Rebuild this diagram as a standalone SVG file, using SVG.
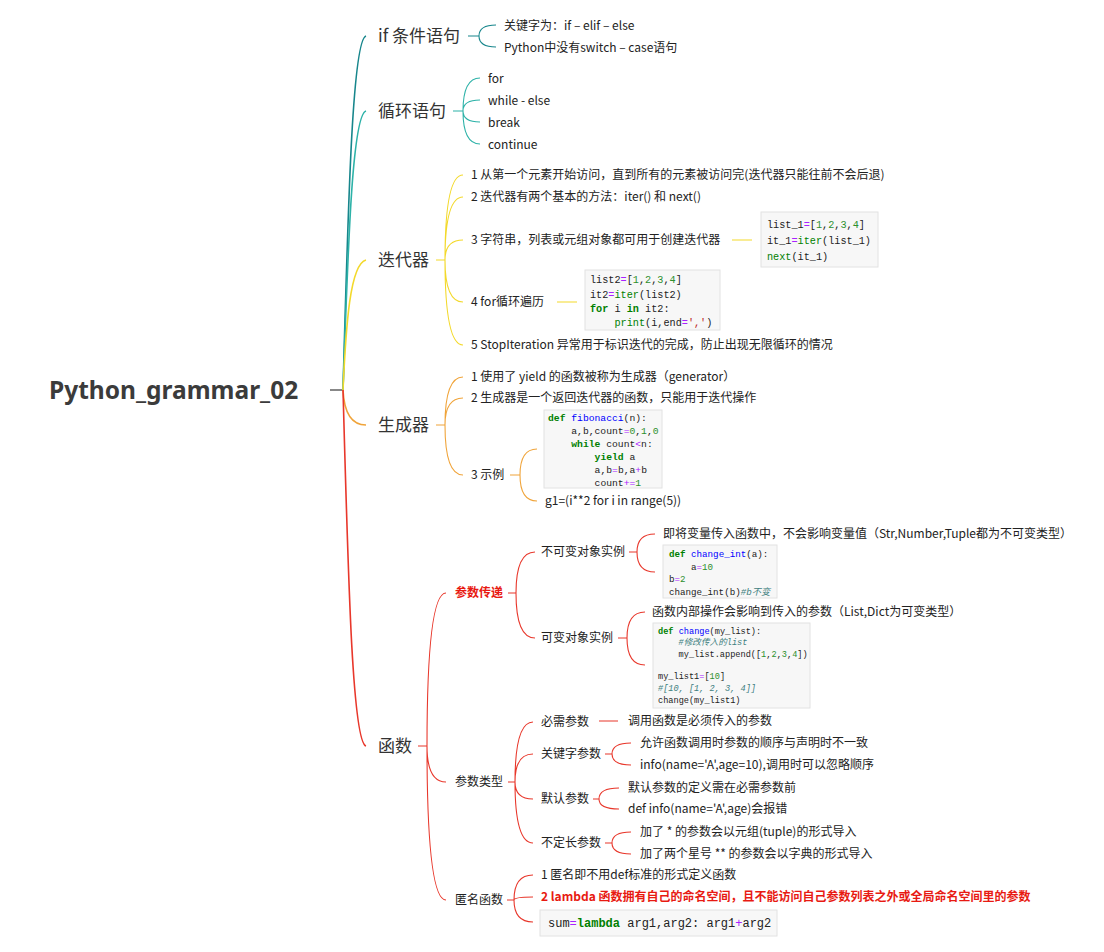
<svg xmlns="http://www.w3.org/2000/svg" width="1104" height="952" viewBox="0 0 1104 952">
<style>
text{font-family:"Noto Sans CJK SC","Noto Sans",sans-serif;fill:#222}
.root{font-family:"Noto Sans","Noto Sans CJK SC",sans-serif;font-size:24.5px;font-weight:bold;fill:#3b3b3b}
.main{font-size:17px;fill:#333}
.sub{font-size:12px;fill:#222}
.red{fill:#e81a12;font-weight:bold}
.code{font-family:"Liberation Mono","Noto Sans CJK SC",monospace;fill:#222;white-space:pre}
.box{fill:#f7f7f7;stroke:#e2e2e2;stroke-width:1}
.k{fill:#008000;font-weight:bold}
.nf{fill:#0000ff}
.o{fill:#aa22ff}
.m{fill:#2d8f2d}
.nb{fill:#008000}
.c{fill:#408080;font-style:italic}
.s{fill:#ba2121}
.t{fill:none;stroke-width:1.6}
.b{fill:none;stroke-width:1.1}
.teal1{stroke:#17868c}
.teal2{stroke:#2db2a8}
.yel{stroke:#f3d92b}
.ora{stroke:#f0a43a}
.rd{stroke:#e8372b}
</style>
<g id="connectors">
<path d="M330,390 H343" fill="none" stroke="#555" stroke-width="1.4"/>
<path class="t teal1" d="M343,390 C348,213 352,40 366,36"/>
<path class="t teal2" d="M343,390 C348,250 352,115 366,111"/>
<path class="t yel" d="M343,390 C346,325 350,264 366,260"/>
<path class="t ora" d="M343,390 C344,410 350,425 366,425"/>
<path class="t rd" d="M343,390 C348,568 352,742 366,746"/>
<path class="b teal1" d="M468,36 H479 M479,36 Q479,25 496,25 M479,36 Q479,47 496,47"/>
<path class="b teal2" d="M453,111 H463 M463,111 Q463,78 480,78 M463,111 Q463,100 480,100 M463,111 Q463,122 480,122 M463,111 Q463,144 480,144"/>
<path class="b yel" d="M436,260 H445 M445,260 Q445,175 463,175 M445,260 Q445,197 463,197 M445,260 Q445,240 463,240 M445,260 Q445,302 463,302 M445,260 Q445,345 463,345 M732,240 H752 M557,302 H577"/>
<path class="b ora" d="M436,425 H445 M445,425 Q445,377 463,377 M445,425 Q445,398 463,398 M445,425 Q445,475 463,475 M510,475 H520 M520,475 Q520,449 537,449 M520,475 Q520,501 537,501"/>
<path class="b rd" d="M418,746 H427 M427,746 Q427,593 446,593 M427,746 Q427,782 446,782 M427,746 Q427,900 446,900"/>
<path class="b rd" d="M508,593 H516 M516,593 Q516,552 535,552 M516,593 Q516,638 535,638"/>
<path class="b rd" d="M629,552 H637 M637,552 Q637,534 655,534 M637,552 Q637,572 655,572"/>
<path class="b rd" d="M618,638 H627 M627,638 Q627,612 645,612 M627,638 Q627,665 645,665"/>
<path class="b rd" d="M508,782 H515 M515,782 Q515,722 533,722 M515,782 Q515,754 533,754 M515,782 Q515,799 533,799 M515,782 Q515,843 533,843 M599,721 H618"/>
<path class="b rd" d="M605,754 H612 M612,754 Q612,743 631,743 M612,754 Q612,765 631,765"/>
<path class="b rd" d="M593,799 H599 M599,799 Q599,788 619,788 M599,799 Q599,809 619,809"/>
<path class="b rd" d="M605,843 H612 M612,843 Q612,832 631,832 M612,843 Q612,854 631,854"/>
<path class="b rd" d="M507,900 H514 M514,900 Q514,875 533,875 M514,900 Q514,897 533,897 M514,900 Q514,922 533,922"/>
</g>
<g id="root"><text class="root" x="49" y="399">Python_grammar_02</text></g>
<g id="n-if"><text class="main" x="378" y="42">if 条件语句</text></g>
<g id="n-if-1"><text class="sub" x="504" y="29.5">关键字为：if – elif – else</text></g>
<g id="n-if-2"><text class="sub" x="504" y="51.5">Python中没有switch – case语句</text></g>
<g id="n-loop"><text class="main" x="378" y="117">循环语句</text></g>
<g id="n-loop-1"><text class="sub" x="488" y="82.5">for</text></g>
<g id="n-loop-2"><text class="sub" x="488" y="104.5">while - else</text></g>
<g id="n-loop-3"><text class="sub" x="488" y="126.5">break</text></g>
<g id="n-loop-4"><text class="sub" x="488" y="148.5">continue</text></g>
<g id="n-iter"><text class="main" x="378" y="266">迭代器</text></g>
<g id="n-iter-1"><text class="sub" x="471" y="179">1 从第一个元素开始访问，直到所有的元素被访问完(迭代器只能往前不会后退)</text></g>
<g id="n-iter-2"><text class="sub" x="471" y="201">2 迭代器有两个基本的方法：iter() 和 next()</text></g>
<g id="n-iter-3"><text class="sub" x="471" y="244">3 字符串，列表或元组对象都可用于创建迭代器</text></g>
<g id="n-iter-3-code"><rect class="box" x="761" y="212" width="117" height="55"/>
<text class="code" font-size="10.2" x="767" y="228">list_1<tspan class="o">=</tspan>[<tspan class="m">1</tspan>,<tspan class="m">2</tspan>,<tspan class="m">3</tspan>,<tspan class="m">4</tspan>]</text>
<text class="code" font-size="10.2" x="767" y="244">it_1<tspan class="o">=</tspan><tspan class="nb">iter</tspan>(list_1)</text>
<text class="code" font-size="10.2" x="767" y="260"><tspan class="nb">next</tspan>(it_1)</text></g>
<g id="n-iter-4"><text class="sub" x="471" y="306">4 for循环遍历</text></g>
<g id="n-iter-4-code"><rect class="box" x="585" y="270" width="135" height="60"/>
<text class="code" font-size="10.2" x="590" y="283">list2<tspan class="o">=</tspan>[<tspan class="m">1</tspan>,<tspan class="m">2</tspan>,<tspan class="m">3</tspan>,<tspan class="m">4</tspan>]</text>
<text class="code" font-size="10.2" x="590" y="297.5">it2<tspan class="o">=</tspan><tspan class="nb">iter</tspan>(list2)</text>
<text class="code" font-size="10.2" x="590" y="312"><tspan class="k">for</tspan> i <tspan class="k">in</tspan> it2:</text>
<text class="code" font-size="10.2" x="614.5" y="326"><tspan class="nb">print</tspan>(i,end<tspan class="o">=</tspan><tspan class="s">','</tspan>)</text></g>
<g id="n-iter-5"><text class="sub" x="471" y="349">5 StopIteration 异常用于标识迭代的完成，防止出现无限循环的情况</text></g>
<g id="n-gen"><text class="main" x="378" y="431">生成器</text></g>
<g id="n-gen-1"><text class="sub" x="471" y="381">1 使用了 yield 的函数被称为生成器（generator）</text></g>
<g id="n-gen-2"><text class="sub" x="471" y="402">2 生成器是一个返回迭代器的函数，只能用于迭代操作</text></g>
<g id="n-gen-3"><text class="sub" x="471" y="479">3 示例</text></g>
<g id="n-gen-3-code"><rect class="box" x="544" y="410" width="118" height="78"/>
<text class="code" font-size="9.7" x="548" y="420.5"><tspan class="k">def</tspan> <tspan class="nf">fibonacci</tspan>(n):</text>
<text class="code" font-size="9.7" x="571.3" y="433.5">a,b,count<tspan class="o">=</tspan><tspan class="m">0</tspan>,<tspan class="m">1</tspan>,<tspan class="m">0</tspan></text>
<text class="code" font-size="9.7" x="571.3" y="446.5"><tspan class="k">while</tspan> count<tspan class="o">&lt;</tspan>n:</text>
<text class="code" font-size="9.7" x="594.6" y="459.5"><tspan class="k">yield</tspan> a</text>
<text class="code" font-size="9.7" x="594.6" y="472.5">a,b<tspan class="o">=</tspan>b,a<tspan class="o">+</tspan>b</text>
<text class="code" font-size="9.7" x="594.6" y="485.5">count<tspan class="o">+=</tspan><tspan class="m">1</tspan></text></g>
<g id="n-gen-3-g1"><text class="sub" x="545" y="505">g1=(i**2 for i in range(5))</text></g>
<g id="n-func"><text class="main" x="378" y="752">函数</text></g>
<g id="n-pass"><text class="sub red" x="455" y="597">参数传递</text></g>
<g id="n-immut"><text class="sub" x="541" y="556">不可变对象实例</text></g>
<g id="n-immut-1"><text class="sub" x="663" y="538">即将变量传入函数中，不会影响变量值（Str,Number,Tuple都为不可变类型）</text></g>
<g id="n-immut-code"><rect class="box" x="663" y="545" width="114" height="53"/>
<text class="code" font-size="9.2" x="669" y="556.5"><tspan class="k">def</tspan> <tspan class="nf">change_int</tspan>(a):</text>
<text class="code" font-size="9.2" x="691" y="569.5">a<tspan class="o">=</tspan><tspan class="m">10</tspan></text>
<text class="code" font-size="9.2" x="669" y="581.5">b<tspan class="o">=</tspan><tspan class="m">2</tspan></text>
<text class="code" font-size="9.2" x="669" y="594.5">change_int(b)<tspan class="c">#b不变</tspan></text></g>
<g id="n-mut"><text class="sub" x="541" y="642">可变对象实例</text></g>
<g id="n-mut-1"><text class="sub" x="652" y="616">函数内部操作会影响到传入的参数（List,Dict为可变类型）</text></g>
<g id="n-mut-code"><rect class="box" x="653" y="623" width="157" height="85"/>
<text class="code" font-size="8.6" x="658" y="634"><tspan class="k">def</tspan> <tspan class="nf">change</tspan>(my_list):</text>
<text class="code" font-size="8.6" x="678.6" y="645"><tspan class="c">#修改传入的list</tspan></text>
<text class="code" font-size="8.6" x="678.6" y="657">my_list.append([<tspan class="m">1</tspan>,<tspan class="m">2</tspan>,<tspan class="m">3</tspan>,<tspan class="m">4</tspan>])</text>
<text class="code" font-size="8.6" x="658" y="679">my_list1<tspan class="o">=</tspan>[<tspan class="m">10</tspan>]</text>
<text class="code" font-size="8.6" x="658" y="691"><tspan class="c">#[10, [1, 2, 3, 4]]</tspan></text>
<text class="code" font-size="8.6" x="658" y="703">change(my_list1)</text></g>
<g id="n-ptype"><text class="sub" x="455" y="786">参数类型</text></g>
<g id="n-req"><text class="sub" x="541" y="726">必需参数</text></g>
<g id="n-req-1"><text class="sub" x="628" y="725">调用函数是必须传入的参数</text></g>
<g id="n-kw"><text class="sub" x="541" y="758">关键字参数</text></g>
<g id="n-kw-1"><text class="sub" x="640" y="747">允许函数调用时参数的顺序与声明时不一致</text></g>
<g id="n-kw-2"><text class="sub" x="640" y="769">info(name='A',age=10),调用时可以忽略顺序</text></g>
<g id="n-def"><text class="sub" x="541" y="803">默认参数</text></g>
<g id="n-def-1"><text class="sub" x="628" y="792">默认参数的定义需在必需参数前</text></g>
<g id="n-def-2"><text class="sub" x="628" y="813">def info(name='A',age)会报错</text></g>
<g id="n-var"><text class="sub" x="541" y="847">不定长参数</text></g>
<g id="n-var-1"><text class="sub" x="640" y="836">加了 * 的参数会以元组(tuple)的形式导入</text></g>
<g id="n-var-2"><text class="sub" x="640" y="858">加了两个星号 ** 的参数会以字典的形式导入</text></g>
<g id="n-anon"><text class="sub" x="455" y="904">匿名函数</text></g>
<g id="n-anon-1"><text class="sub" x="541" y="879">1 匿名即不用def标准的形式定义函数</text></g>
<g id="n-anon-2"><text class="sub red" x="541" y="901">2 lambda 函数拥有自己的命名空间，且不能访问自己参数列表之外或全局命名空间里的参数</text></g>
<g id="n-anon-code"><rect class="box" x="540" y="910" width="237" height="26"/>
<text class="code" font-size="12" x="548" y="927">sum<tspan class="o">=</tspan><tspan class="k">lambda</tspan> arg1,arg2: arg1<tspan class="o">+</tspan>arg2</text></g>
</svg>
